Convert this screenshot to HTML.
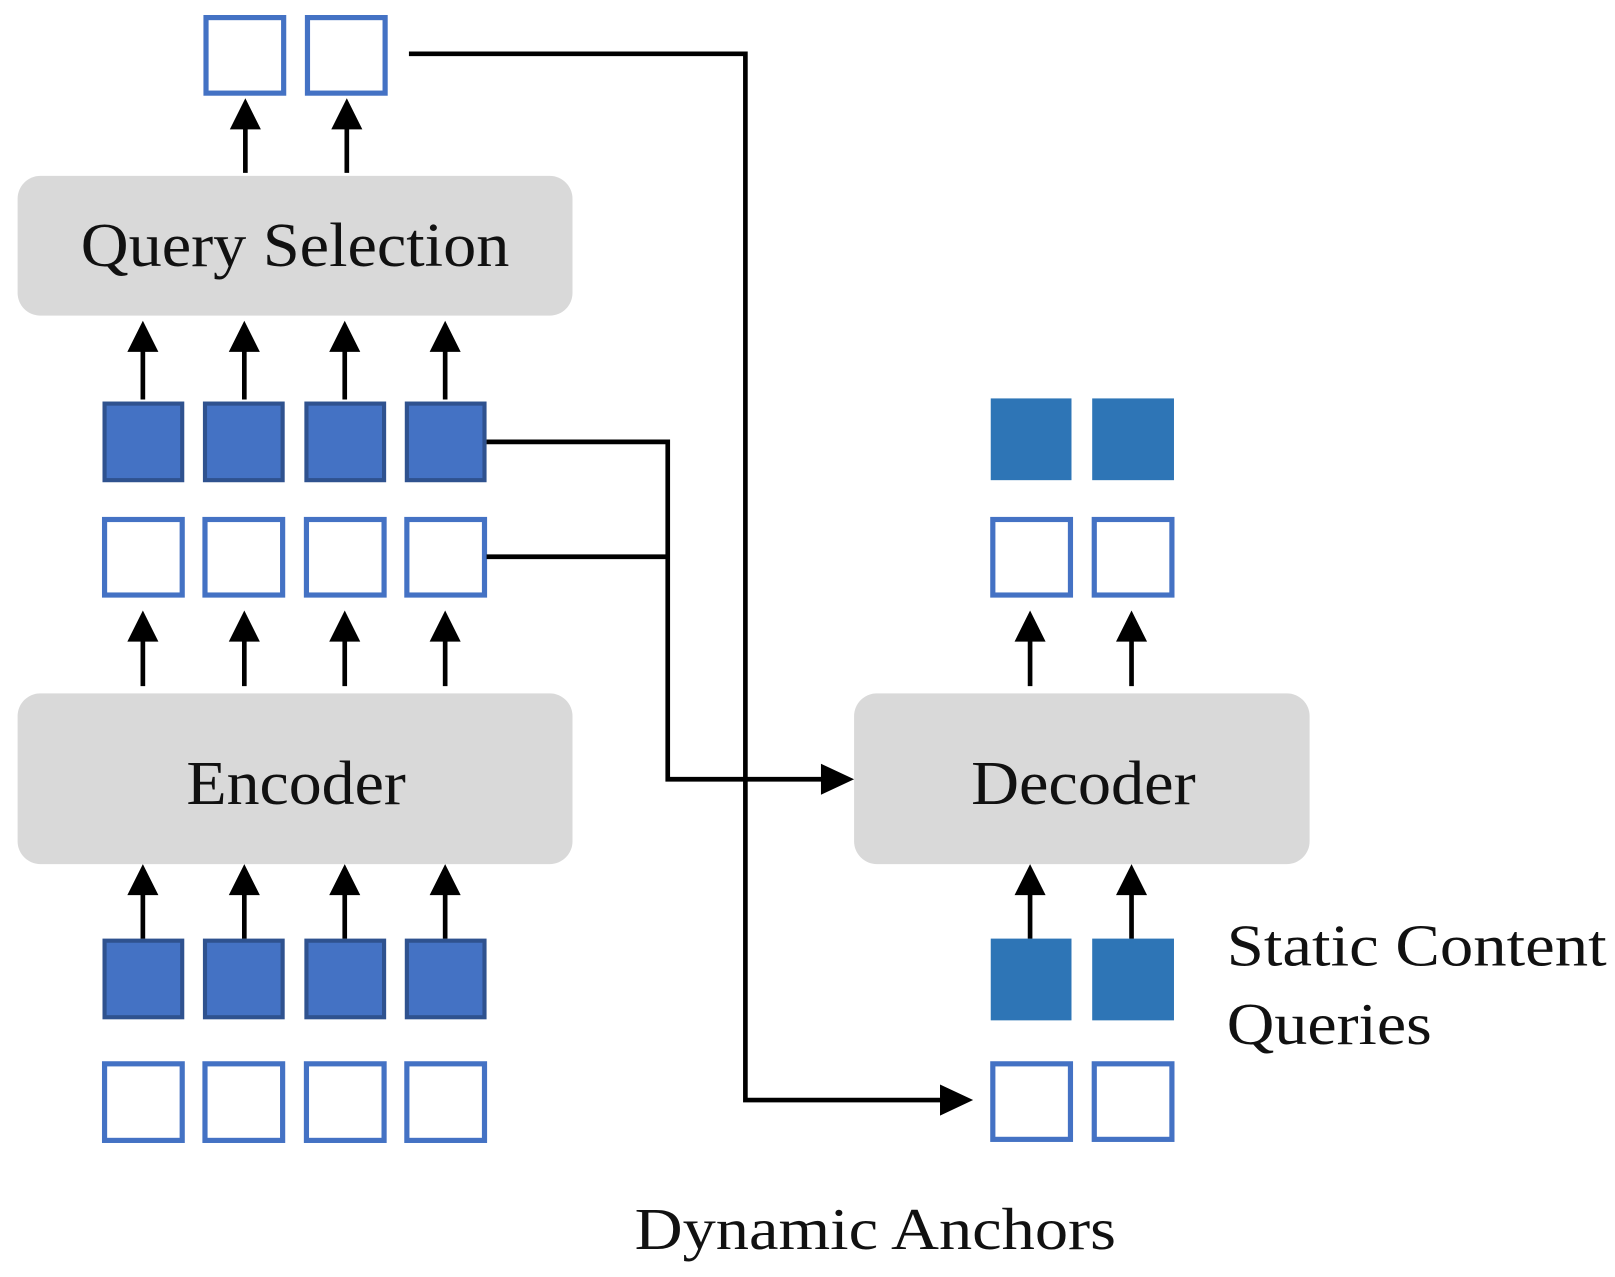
<!DOCTYPE html>
<html><head><style>html,body{margin:0;padding:0;background:#fff}svg{display:block}</style></head>
<body>
<svg width="1615" height="1277" viewBox="0 0 1560 1234" preserveAspectRatio="none" xmlns="http://www.w3.org/2000/svg">
<g font-family="Liberation Serif, serif" fill="#111">
<rect x="17" y="170" width="536" height="135" rx="22" fill="#d9d9d9"/>
<rect x="17" y="670" width="536" height="165" rx="22" fill="#d9d9d9"/>
<rect x="825" y="670" width="440" height="165" rx="22" fill="#d9d9d9"/>
<text x="78" y="257" font-size="60" textLength="414" lengthAdjust="spacingAndGlyphs">Query Selection</text>
<text x="180" y="777" font-size="60" textLength="212" lengthAdjust="spacingAndGlyphs">Encoder</text>
<text x="938" y="777" font-size="60" textLength="217" lengthAdjust="spacingAndGlyphs">Decoder</text>
<text x="1185" y="933" font-size="57" textLength="367" lengthAdjust="spacingAndGlyphs">Static Content</text>
<text x="1185" y="1009" font-size="57" textLength="198" lengthAdjust="spacingAndGlyphs">Queries</text>
<text x="613" y="1207" font-size="57" textLength="465" lengthAdjust="spacingAndGlyphs">Dynamic Anchors</text>
</g>
<g fill="none" stroke="#4472c4" stroke-width="5">
<rect x="199" y="17" width="75" height="73"/>
<rect x="297" y="17" width="75" height="73"/>
<rect x="101" y="502" width="75" height="73"/><rect x="198" y="502" width="75" height="73"/><rect x="296" y="502" width="75" height="73"/><rect x="393" y="502" width="75" height="73"/>
<rect x="101" y="1028" width="75" height="74"/><rect x="198" y="1028" width="75" height="74"/><rect x="296" y="1028" width="75" height="74"/><rect x="393" y="1028" width="75" height="74"/>
<rect x="959" y="502" width="75" height="73"/><rect x="1057" y="502" width="75" height="73"/>
<rect x="959" y="1028" width="75" height="73"/><rect x="1057" y="1028" width="75" height="73"/>
</g>
<g fill="#4472c4" stroke="#2f528f" stroke-width="4">
<rect x="101" y="390" width="75" height="74"/><rect x="198" y="390" width="75" height="74"/><rect x="296" y="390" width="75" height="74"/><rect x="393" y="390" width="75" height="74"/>
<rect x="101" y="909" width="75" height="74"/><rect x="198" y="909" width="75" height="74"/><rect x="296" y="909" width="75" height="74"/><rect x="393" y="909" width="75" height="74"/>
</g>
<g fill="#2e75b6">
<rect x="957" y="385" width="78" height="79"/><rect x="1055" y="385" width="79" height="79"/>
<rect x="957" y="907" width="78" height="79"/><rect x="1055" y="907" width="79" height="79"/>
</g>
<g stroke="#000" stroke-width="4.5" fill="none">
<path d="M237 167V120M335 167V120"/>
<path d="M138 386V335M236 386V335M333 386V335M430 386V335"/>
<path d="M138 663V615M236 663V615M333 663V615M430 663V615"/>
<path d="M138 907V860M236 907V860M333 907V860M430 907V860"/>
<path d="M995 663V615M1093 663V615M995 907V860M1093 907V860"/>
<path d="M470 427H645V753H795M470 538H645"/>
<path d="M395 52H720V1063H910"/>
</g>
<g fill="#000">
<path d="M237 95l-15 30h30zM335 95l-15 30h30z"/>
<path d="M138 310l-15 30h30zM236 310l-15 30h30zM333 310l-15 30h30zM430 310l-15 30h30z"/>
<path d="M138 590l-15 30h30zM236 590l-15 30h30zM333 590l-15 30h30zM430 590l-15 30h30z"/>
<path d="M138 835l-15 30h30zM236 835l-15 30h30zM333 835l-15 30h30zM430 835l-15 30h30z"/>
<path d="M995 590l-15 30h30zM1093 590l-15 30h30zM995 835l-15 30h30zM1093 835l-15 30h30z"/>
<path d="M825 753l-32 -15v30zM940 1063l-32 -15v30z"/>
</g>
</svg>
</body></html>
